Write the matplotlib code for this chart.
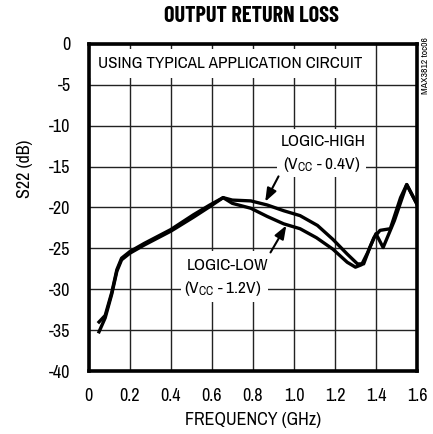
import matplotlib
matplotlib.use("Agg")
import matplotlib.pyplot as plt
from matplotlib.patches import Rectangle

FONT = ['Archivo Narrow', 'Liberation Sans', 'DejaVu Sans']
plt.rcParams['font.family'] = FONT
plt.rcParams['mathtext.fontset'] = 'custom'
plt.rcParams['mathtext.rm'] = 'Archivo Narrow'
plt.rcParams['mathtext.it'] = 'Archivo Narrow'

# Data
freq_high = [0.05, 0.08, 0.112, 0.137, 0.16, 0.20, 0.27, 0.40, 0.51, 0.59, 0.655, 0.70, 0.79, 0.87,
             0.95, 1.03, 1.115, 1.19, 1.26, 1.31, 1.34, 1.37, 1.40, 1.435, 1.49, 1.55, 1.60]
s22_high = [-34.0, -33.2, -30.4, -27.6, -26.2, -25.4, -24.4, -22.7, -20.9, -19.7, -18.8, -19.1, -19.2, -19.7,
            -20.4, -21.0, -22.2, -23.9, -25.7, -26.9, -26.9, -24.9, -23.2, -24.9, -21.6, -17.2, -19.6]
freq_low = [0.05, 0.08, 0.112, 0.137, 0.16, 0.20, 0.27, 0.40, 0.51, 0.59, 0.655, 0.70, 0.79, 0.87,
            0.95, 1.03, 1.11, 1.19, 1.26, 1.30, 1.33, 1.36, 1.39, 1.42, 1.47, 1.52, 1.55, 1.60]
s22_low = [-35.2, -33.5, -30.6, -27.8, -26.4, -25.6, -24.6, -22.9, -21.2, -19.9, -18.8, -19.5, -20.1, -21.1,
           -22.0, -22.6, -23.7, -25.1, -26.7, -27.3, -27.0, -25.5, -23.7, -22.8, -22.6, -18.8, -17.2, -19.6]

xticks = [0, 0.2, 0.4, 0.6, 0.8, 1.0, 1.2, 1.4, 1.6]
xticklabels = ['0', '0.2', '0.4', '0.6', '0.8', '1.0', '1.2', '1.4', '1.6']
yticks = [0, -5, -10, -15, -20, -25, -30, -35, -40]

fig = plt.figure(figsize=(4.33, 4.34), dpi=100)
ax = fig.add_axes([0.205, 0.145, 0.758, 0.754])

ax.set_xlim(0, 1.6)
ax.set_ylim(-40, 0)
ax.set_xticks(xticks)
ax.set_xticklabels(xticklabels)
ax.set_yticks(yticks)
ax.set_yticklabels([str(v) for v in yticks])
ax.tick_params(axis='x', length=0, labelsize=13, pad=12)
ax.tick_params(axis='y', length=0, labelsize=13, pad=13)
ax.set_axisbelow(True)
ax.grid(True, color='#222222', linewidth=1.0)
for s in ax.spines.values():
    s.set_linewidth(2.6)

ax.plot(freq_high, s22_high, color='black', linewidth=2.4, zorder=3)
ax.plot(freq_low, s22_low, color='black', linewidth=2.4, zorder=3)

# white boxes behind labels
for (x0, y0, w, h) in [(0.005, -4.2, 1.385, 3.6), (0.92, -16.3, 0.43, 5.95), (0.45, -31.5, 0.425, 6.2)]:
    ax.add_patch(Rectangle((x0, y0), w, h, facecolor='white', edgecolor='none', zorder=1))

ax.text(0.689, -2.45, 'USING TYPICAL APPLICATION CIRCUIT', ha='center', va='center', fontsize=12.3, zorder=4)
ax.text(1.143, -11.9, 'LOGIC-HIGH', ha='center', va='center', fontsize=12.5, zorder=4)
ax.text(1.137, -14.7, r'(V$_\mathrm{CC}$ - 0.4V)', ha='center', va='center', fontsize=12.5, zorder=4)
ax.text(0.677, -27.1, 'LOGIC-LOW', ha='center', va='center', fontsize=12.5, zorder=4)
ax.text(0.655, -29.9, r'(V$_\mathrm{CC}$ - 1.2V)', ha='center', va='center', fontsize=12.5, zorder=4)

arrow = dict(arrowstyle='-|>,head_length=0.8,head_width=0.3', color='black', lw=1.5, shrinkA=0, shrinkB=0)
ax.annotate('', xy=(0.86, -19.3), xytext=(0.925, -16.2), arrowprops=arrow, zorder=4)
ax.annotate('', xy=(0.963, -22.2), xytext=(0.886, -25.5), arrowprops=arrow, zorder=4)

ax.set_xlabel('FREQUENCY (GHz)', fontsize=13, labelpad=6)
fig.text(0.058, 0.61, 'S22 (dB)', rotation=90, ha='center', va='center', fontsize=13)
fig.text(0.58, 0.963, 'OUTPUT RETURN LOSS', ha='center', va='center', fontsize=16,
         fontweight='bold', family=['Barlow Condensed', 'Archivo Narrow', 'DejaVu Sans'])
fig.text(0.982, 0.85, 'MAX3812 toc06', rotation=90, ha='center', va='center', fontsize=7)

fig.savefig('out.png', dpi=100)
